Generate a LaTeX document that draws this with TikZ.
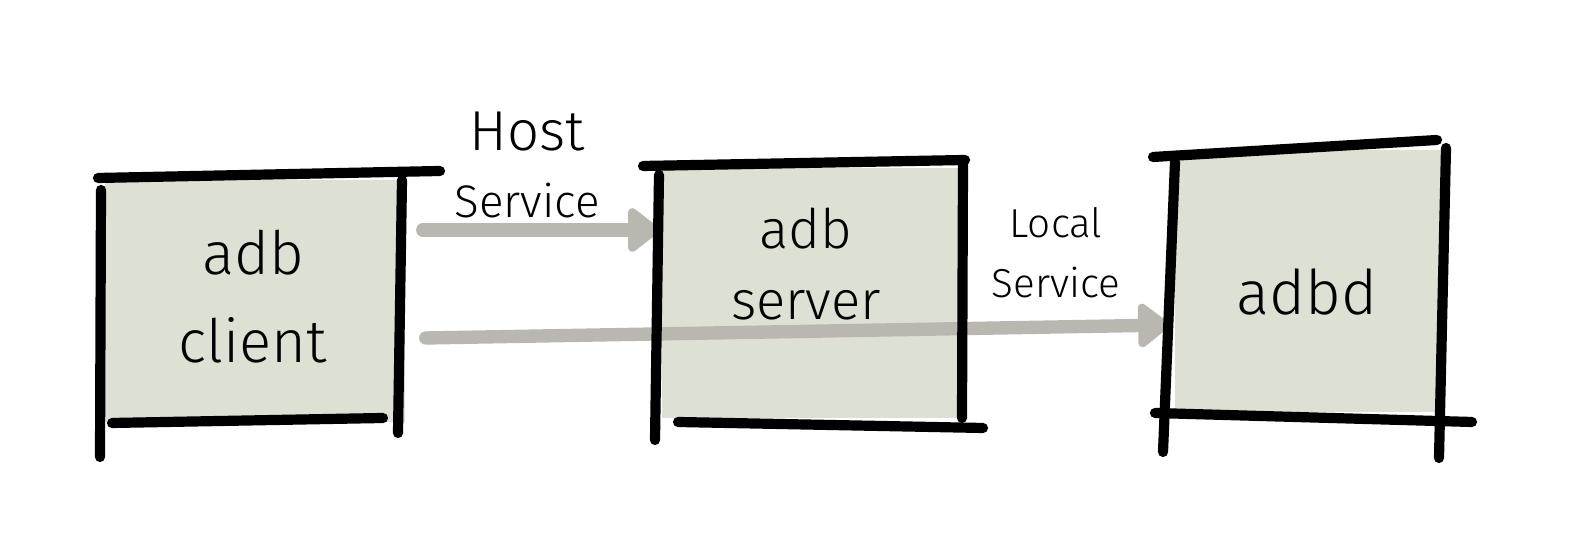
\documentclass[tikz,border=0pt]{standalone}
\usepackage{fontspec}
\setmainfont{Fira Sans}[UprightFont=* Light]
\usetikzlibrary{arrows.meta,positioning,calc}
\definecolor{sage}{RGB}{221,225,211}
\definecolor{flow}{RGB}{186,183,176}

\begin{document}
\begin{tikzpicture}[
  x=0.01cm, y=-0.01cm,
  every node/.style={font=\fontsize{17}{25}\selectfont},
  box/.style={fill=sage, inner sep=0pt},
  pen/.style={line width=2.9pt, line cap=round, black},
  flowline/.style={line width=3.8pt, line cap=round, flow,
                   -{Triangle[length=3.4mm, width=5mm, round]}},
  >=Stealth
]
\useasboundingbox (0,0) rectangle (1569,559);

% Boxes
\node[box, minimum width=3cm, minimum height=2.42cm] (client) at (255,301) {};
\node[box, minimum width=3cm, minimum height=2.5cm] (server) at (812,293) {};
\node[box, minimum width=2.7cm, minimum height=2.62cm] (adbd) at (1310,281) {};

\node[align=center] (clientlbl) at (253,297) {adb\\client};
\node[align=center, font=\fontsize{15.5}{20}\selectfont] (serverlbl) at (806,264) {adb\\server};
\node[font=\fontsize{17.5}{22}\selectfont] (adbdlbl) at (1307,292) {adbd};

% Connectors
\draw[flowline] ([shift={(17,-71)}]client.east) -- ([shift={(-2,-63)}]server.west);
\draw[flowline] ([shift={(20,37)}]client.east) -- ([shift={(-5,44)}]adbd.west);

\node[align=center, font=\fontsize{13}{19}\selectfont] (hostlbl) at (527,165) {\fontsize{16}{19}\selectfont Host\\Service};
\node[align=center, font=\fontsize{11.5}{17}\selectfont] (locallbl) at (1056,253) {Local\\Service};

% Hand-drawn edges
\draw[pen] (98,178) -- (440,171);
\draw[pen] (101,190) -- (100,457);
\draw[pen] (402,180) -- (398,433);
\draw[pen] (112,423) -- (383,418);

\draw[pen] (643,166) -- (965,160);
\draw[pen] (659,175) -- (655,440);
\draw[pen] (963,165) -- (962,418);
\draw[pen] (678,422) -- (983,428);

\draw[pen] (1153,157) -- (1437,140);
\draw[pen] (1175,162) -- (1163,452);
\draw[pen] (1446,148) -- (1439,458);
\draw[pen] (1155,413) -- (1472,422);

\end{tikzpicture}
\end{document}
